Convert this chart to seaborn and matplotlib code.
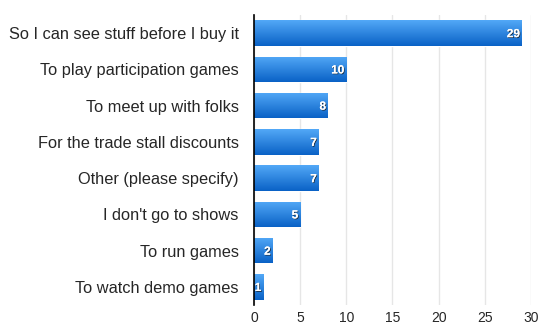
import numpy as np
import pandas as pd
import matplotlib
matplotlib.use("Agg")
import matplotlib.pyplot as plt
import matplotlib.patheffects as pe
from matplotlib.colors import LinearSegmentedColormap
import seaborn as sns

categories = [
    "So I can see stuff before I buy it",
    "To play participation games",
    "To meet up with folks",
    "For the trade stall discounts",
    "Other (please specify)",
    "I don't go to shows",
    "To run games",
    "To watch demo games",
]
counts = [29, 10, 8, 7, 7, 5, 2, 1]
x_ticks = [0, 5, 10, 15, 20, 25, 30]

sns.set_theme(style="white")
plt.rcParams["font.family"] = ["Liberation Sans", "DejaVu Sans"]

df = pd.DataFrame({"category": categories, "count": counts})

fig = plt.figure(figsize=(5.39, 3.25), dpi=100)
ax = fig.add_axes([0.4712, 0.0615, 0.5138, 0.8925])

sns.barplot(data=df, y="category", x="count", orient="h", color="#2b7fdc",
            width=0.7, ax=ax, saturation=1)

cmap = LinearSegmentedColormap.from_list("bluegrad", ["#52a8f7", "#0a62c6"])
grad = np.linspace(0, 1, 64).reshape(-1, 1)
for p in ax.patches:
    x0, y0 = p.get_x(), p.get_y()
    w, h = p.get_width(), p.get_height()
    im = ax.imshow(grad, cmap=cmap, aspect="auto",
                   extent=[x0, x0 + w, y0 + h, y0], origin="upper",
                   zorder=p.get_zorder() + 0.1)
    im.set_clip_path(p)

ax.set_xlim(0, 30)
ax.set_ylim(7.5, -0.5)
ax.set_xticks(x_ticks)
ax.set_xticklabels([str(t) for t in x_ticks], fontsize=10)
ax.tick_params(axis="y", labelsize=11.8, length=0, pad=11)
ax.tick_params(axis="x", length=0, pad=4.5)
ax.set_xlabel("")
ax.set_ylabel("")
ax.grid(axis="x", color="#e6e6e6", linewidth=1)
ax.set_axisbelow(True)
for s in ["top", "right", "bottom"]:
    ax.spines[s].set_visible(False)
ax.spines["left"].set_color("black")
ax.spines["left"].set_linewidth(1.2)
ax.spines["left"].set_zorder(5)

for i, v in enumerate(counts):
    ax.text(v - 0.2, i + 0.03, str(v), ha="right", va="center", color="white",
            fontsize=8.5, fontweight="bold", zorder=6,
            path_effects=[pe.withSimplePatchShadow(offset=(0.6, -0.6),
                                                   shadow_rgbFace="#1a1a1a", alpha=0.8),
                          pe.Normal()])

fig.savefig("out.png", dpi=100)
